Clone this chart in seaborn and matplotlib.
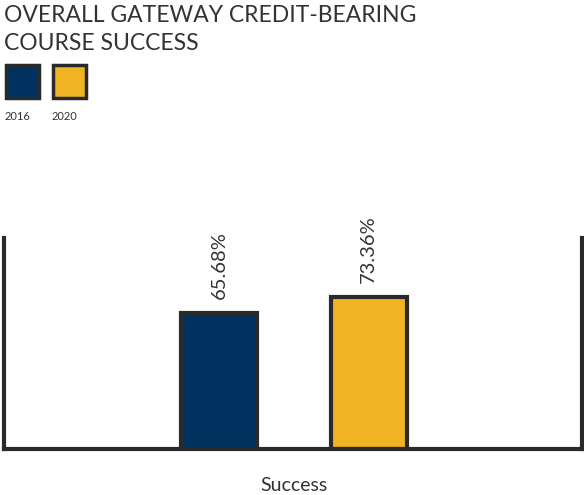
import matplotlib
matplotlib.use("Agg")
import matplotlib.pyplot as plt
from matplotlib.patches import Rectangle
import seaborn as sns
import pandas as pd

# data
categories = ["Success", "Success"]
years = ["2016", "2020"]
values = [65.68, 73.36]
colors = ["#01325f", "#f0b323"]
edge = "#2a2a2a"
text_col = "#333333"

df = pd.DataFrame({"cat": categories, "year": years, "value": values})

sns.set_style("white")
plt.rcParams["font.family"] = ["Lato", "DejaVu Sans"]

fig = plt.figure(figsize=(5.84, 4.95), dpi=100)
ax = fig.add_axes([4 / 584, 1 - 449 / 495, 578 / 584, 211 / 495])

sns.barplot(data=df, x="cat", y="value", hue="year", palette=colors, saturation=1,
            width=0.8, gap=0.49, edgecolor=edge, linewidth=3, legend=False, ax=ax)

for c in ax.containers:
    ax.bar_label(c, labels=[f"{v:.2f}%" for v in c.datavalues], rotation=90,
                 padding=10, fontsize=14.5, color=text_col)

ax.set_ylim(0, 102)
ax.set_xlim(-0.775, 0.77)
ax.set_yticks([])
ax.set_xlabel("")
ax.set_ylabel("")
ax.tick_params(axis="x", length=0, pad=20, labelsize=14, labelcolor=text_col)
for s in ["left", "right", "bottom"]:
    ax.spines[s].set_visible(True)
    ax.spines[s].set_linewidth(3)
    ax.spines[s].set_color(edge)
ax.spines["top"].set_visible(False)

# title
fig.text(4 / 584, 1 - 5 / 495, "OVERALL GATEWAY CREDIT-BEARING\nCOURSE SUCCESS",
         ha="left", va="top", fontsize=16.5, color=text_col, linespacing=1.4)

# legend squares with labels underneath
for i, (yr, col) in enumerate(zip(years, colors)):
    x0 = 6 + i * 47
    fig.add_artist(Rectangle((x0 / 584, 1 - 98 / 495), 33 / 584, 33 / 495,
                             transform=fig.transFigure, facecolor=col,
                             edgecolor=edge, linewidth=2.5))
    fig.text((x0 - 1) / 584, 1 - 116 / 495, yr, ha="left", va="center",
             fontsize=8, color=text_col)

fig.savefig("out.png", dpi=100)
